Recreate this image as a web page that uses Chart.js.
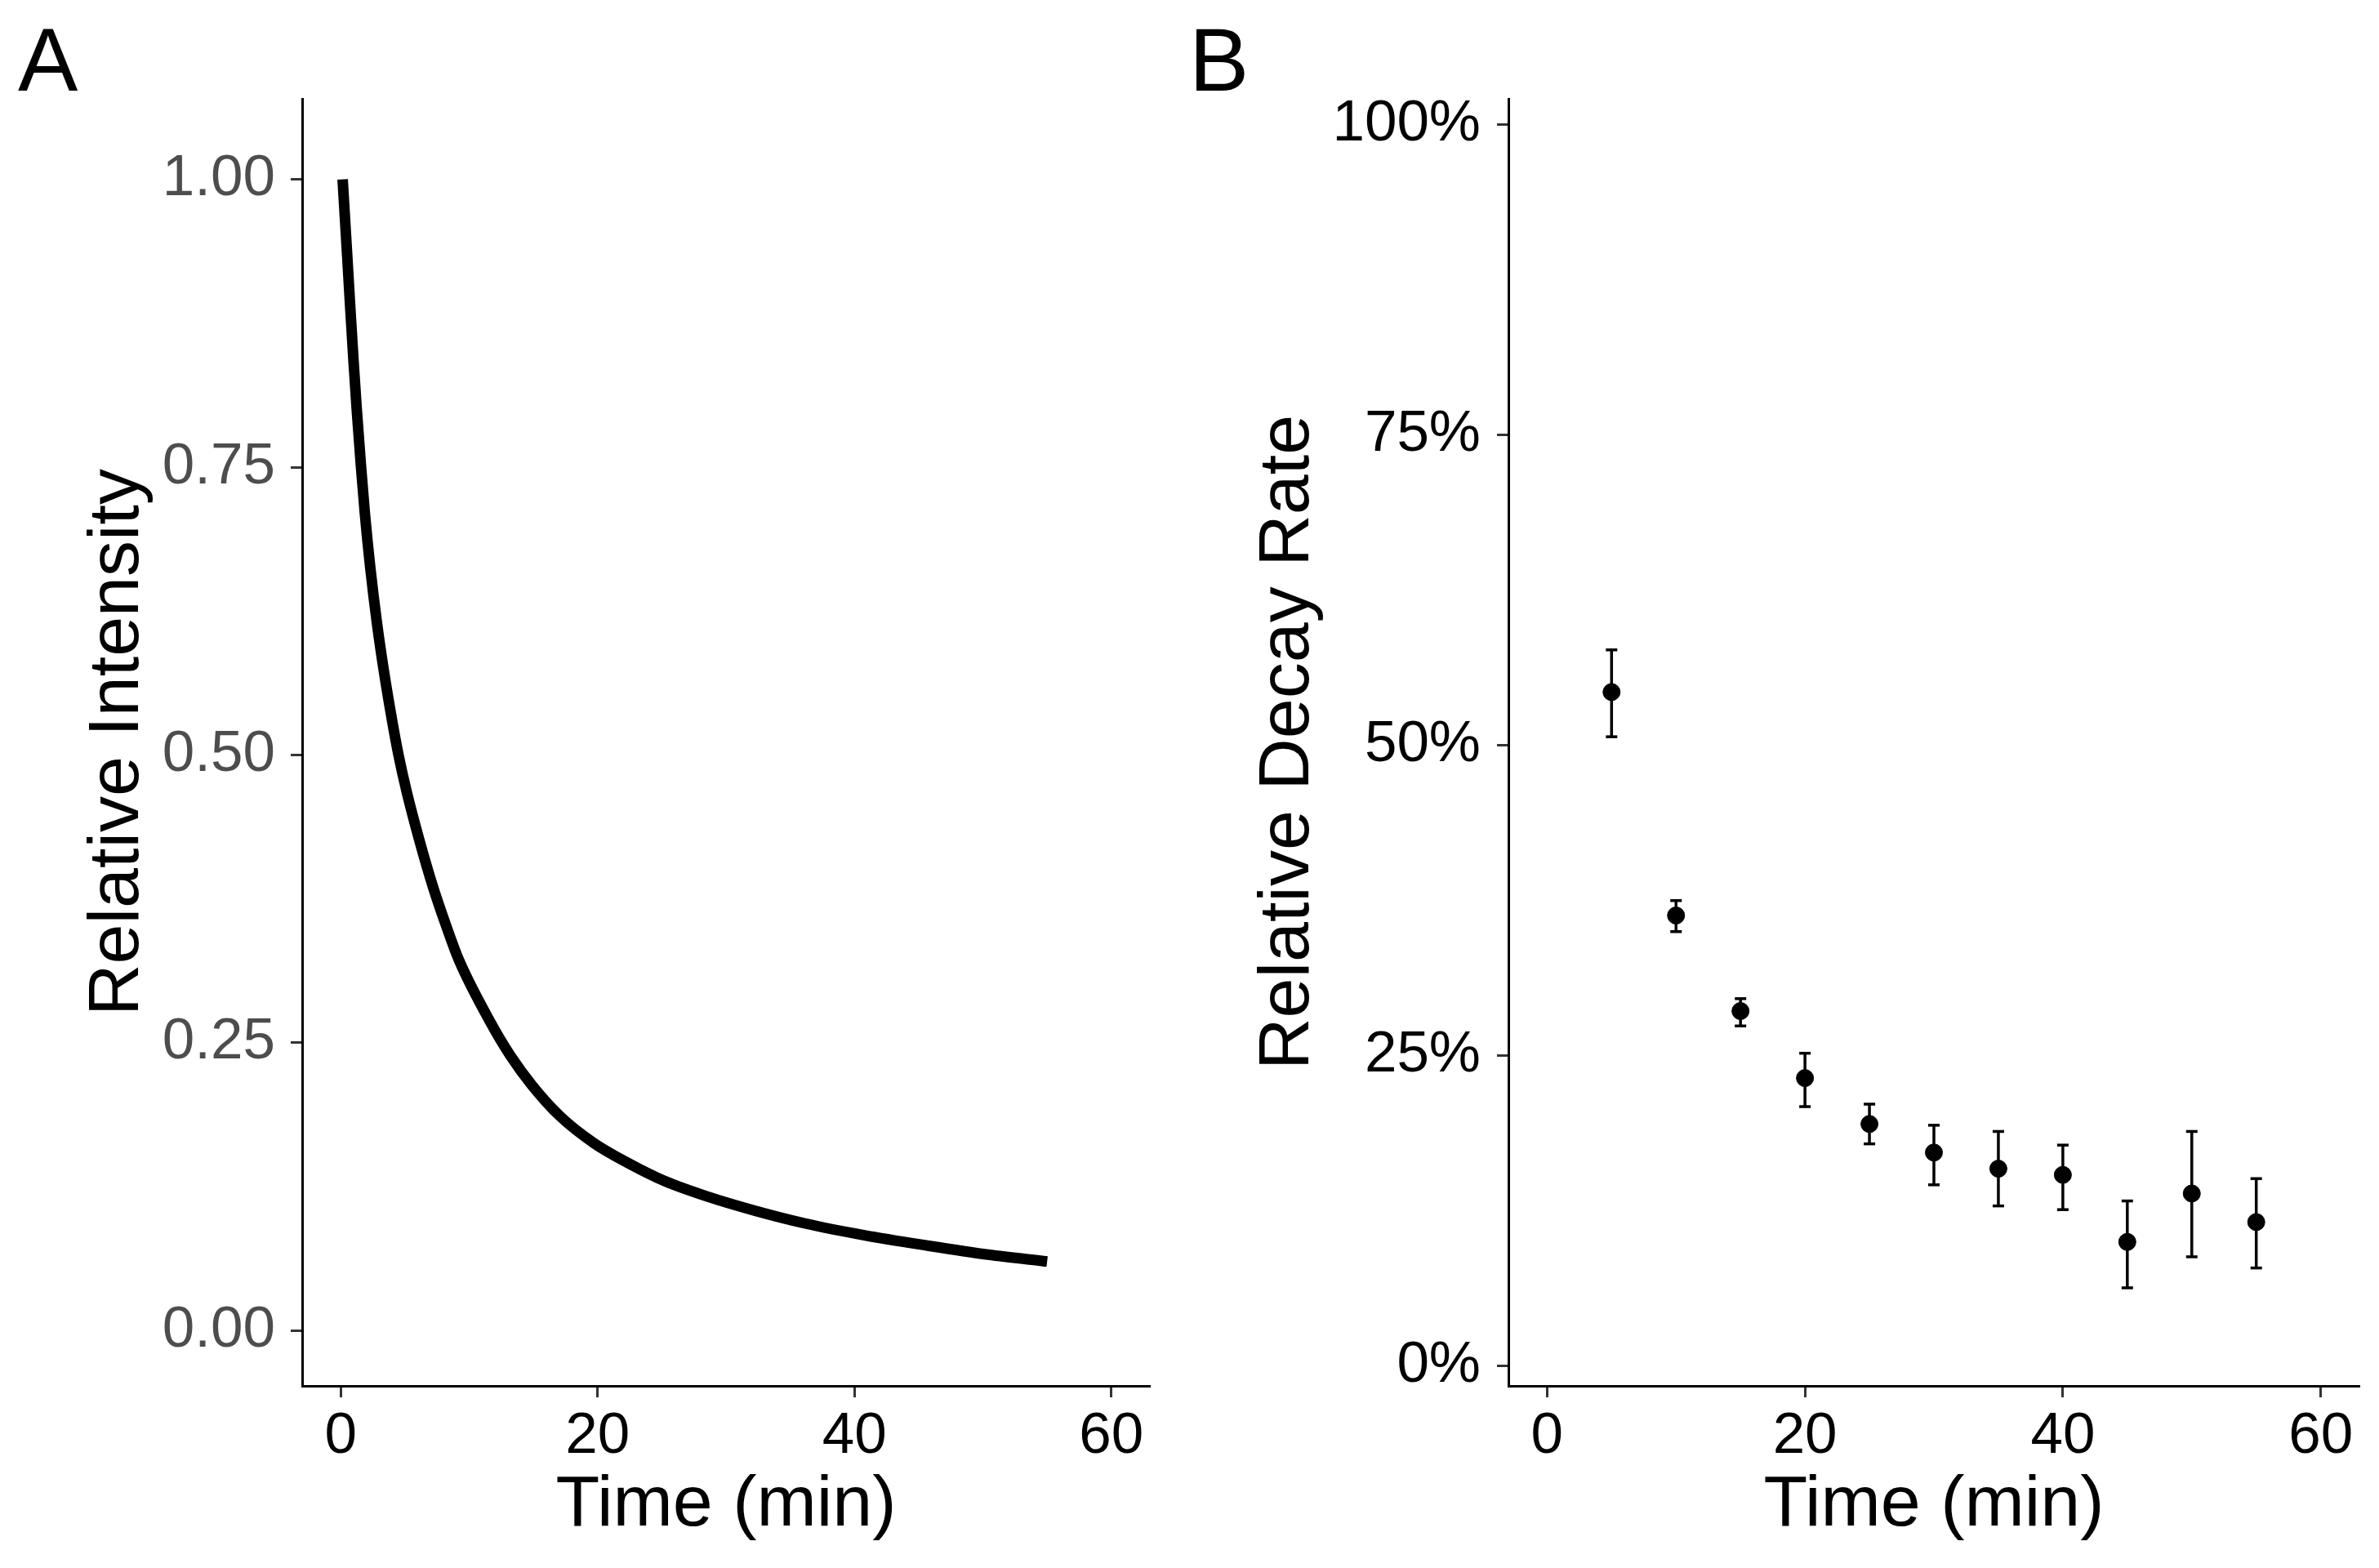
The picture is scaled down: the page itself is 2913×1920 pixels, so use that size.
<!DOCTYPE html>
<html>
<head>
<meta charset="utf-8">
<script src="https://cdn.jsdelivr.net/npm/chart.js@4.4.1/dist/chart.umd.min.js"></script>
<style>
  html, body { margin: 0; padding: 0; background: #fff; }
  #wrap { position: relative; width: 2913px; height: 1920px; overflow: hidden; font-family: "Liberation Sans", Arial, sans-serif; }
  canvas { position: absolute; top: 0; }
  .tag { position: absolute; font-size: 110px; line-height: 1; color: #000; }
</style>
</head>
<body>
<div id="wrap">
  <canvas id="chartA" style="left:0px;width:1456px;height:1920px" width="1456" height="1920"></canvas>
  <canvas id="chartB" style="left:1456px;width:1457px;height:1920px" width="1457" height="1920"></canvas>
  <div class="tag" style="left:22px;top:18px">A</div>
  <div class="tag" style="left:1456px;top:18px">B</div>
</div>
<script>
const FONT = '"Liberation Sans", Arial, sans-serif';

// panel A - fitted intensity curve
const timeA = [0.15, 0.5, 0.72, 1.0, 1.25, 1.57, 1.88, 2.3, 2.83, 3.36, 4.0, 4.5, 5.16, 6.1, 7.17, 8.2, 9.2, 11.6, 13.2, 14.9, 17.1, 19.7, 22.3, 25.2, 28.4, 32.3, 36.2, 40.7, 45.6, 50.4, 55.0];
const intensityA = [1.000, 0.935, 0.893, 0.842, 0.800, 0.752, 0.710, 0.663, 0.614, 0.573, 0.530, 0.500, 0.467, 0.427, 0.386, 0.352, 0.322, 0.269, 0.239, 0.213, 0.186, 0.163, 0.146, 0.130, 0.117, 0.104, 0.093, 0.083, 0.074, 0.066, 0.060];
const yTicksA = [0, 0.25, 0.5, 0.75, 1];

// panel B - relative decay rate (%) with error bars
const timeB = [5, 10, 15, 20, 25, 30, 35, 40, 45, 50, 55];
const rateB = [54.3, 36.3, 28.6, 23.2, 19.5, 17.2, 15.9, 15.4, 10.0, 13.9, 11.6];
const lowB  = [50.7, 35.0, 27.4, 20.9, 17.9, 14.6, 12.9, 12.6, 6.3, 8.8, 7.9];
const highB = [57.7, 37.5, 29.6, 25.2, 21.1, 19.4, 18.9, 17.8, 13.3, 18.9, 15.1];
const yTicksB = [0, 25, 50, 75, 100];

const xTicks = [0, 20, 40, 60];

function axis(o) {
    return {
        type: 'linear',
        min: o.min,
        max: o.max,
        afterBuildTicks: s => { s.ticks = o.ticks.map(v => ({ value: v })); },
        afterFit: s => {
            if (s.isHorizontal()) s.height = o.size;
            else s.width = o.size;
        },
        grid: { drawOnChartArea: false, drawTicks: true, tickLength: 14, tickWidth: 3, tickColor: '#333333' },
        border: { display: true, color: '#000', width: 3 },
        ticks: {
            color: o.tickColor,
            font: { family: FONT, size: 71 },
            padding: o.pad,
            autoSkip: false,
            maxRotation: 0,
            callback: o.fmt
        },
        title: {
            display: true,
            text: o.title,
            color: '#000',
            font: { family: FONT, size: 88 },
            padding: o.titlePad
        }
    };
}

const baseOpts = {
    responsive: false,
    devicePixelRatio: 1,
    animation: false,
    events: [],
    plugins: { legend: { display: false }, tooltip: { enabled: false } }
};

new Chart(document.getElementById('chartA'), {
    type: 'scatter',
    data: {
        datasets: [{
            data: timeA.map((t, i) => ({ x: t, y: intensityA[i] })),
            showLine: true,
            borderColor: '#000',
            borderWidth: 13,
            borderCapStyle: 'butt',
            cubicInterpolationMode: 'monotone',
            pointRadius: 0
        }]
    },
    options: {
        ...baseOpts,
        layout: { padding: { left: 0, top: 121, right: 48, bottom: 0 } },
        scales: {
            x: axis({ min: -3, max: 63, ticks: xTicks, size: 223, tickColor: '#000', pad: 6,
                      fmt: v => String(v), title: 'Time (min)', titlePad: { top: 0, bottom: 23 } }),
            y: axis({ min: -0.048, max: 1.07, ticks: yTicksA, size: 370, tickColor: '#4D4D4D', pad: 19,
                      fmt: v => v.toFixed(2), title: 'Relative Intensity', titlePad: { top: 92, bottom: 0 } })
        }
    }
});

// error bar stems: one vertical segment per point, broken by nulls
const stems = [];
timeB.forEach((t, i) => {
    stems.push({ x: t, y: lowB[i] }, { x: t, y: highB[i] }, { x: t, y: null });
});
const caps = timeB.map((t, i) => ({ x: t, y: lowB[i] })).concat(timeB.map((t, i) => ({ x: t, y: highB[i] })));

new Chart(document.getElementById('chartB'), {
    type: 'scatter',
    data: {
        datasets: [
            {
                data: stems,
                showLine: true,
                spanGaps: false,
                borderColor: '#000',
                borderWidth: 3.5,
                pointRadius: 0
            },
            {
                data: caps,
                pointStyle: 'line',
                pointRadius: 7,
                borderColor: '#000',
                pointBorderWidth: 3.5
            },
            {
                data: timeB.map((t, i) => ({ x: t, y: rateB[i] })),
                pointStyle: 'circle',
                pointRadius: 10.5,
                backgroundColor: '#000',
                borderColor: '#000',
                pointBorderWidth: 1
            }
        ]
    },
    options: {
        ...baseOpts,
        layout: { padding: { left: 0, top: 121, right: 24, bottom: 0 } },
        scales: {
            x: axis({ min: -3, max: 63, ticks: xTicks, size: 223, tickColor: '#000', pad: 6,
                      fmt: v => String(v), title: 'Time (min)', titlePad: { top: 0, bottom: 23 } }),
            y: axis({ min: -1.6, max: 102.1, ticks: yTicksB, size: 391, tickColor: '#000', pad: 20,
                      fmt: v => v + '%', title: 'Relative Decay Rate', titlePad: { top: 69, bottom: 0 } })
        }
    }
});
</script>
</body>
</html>
